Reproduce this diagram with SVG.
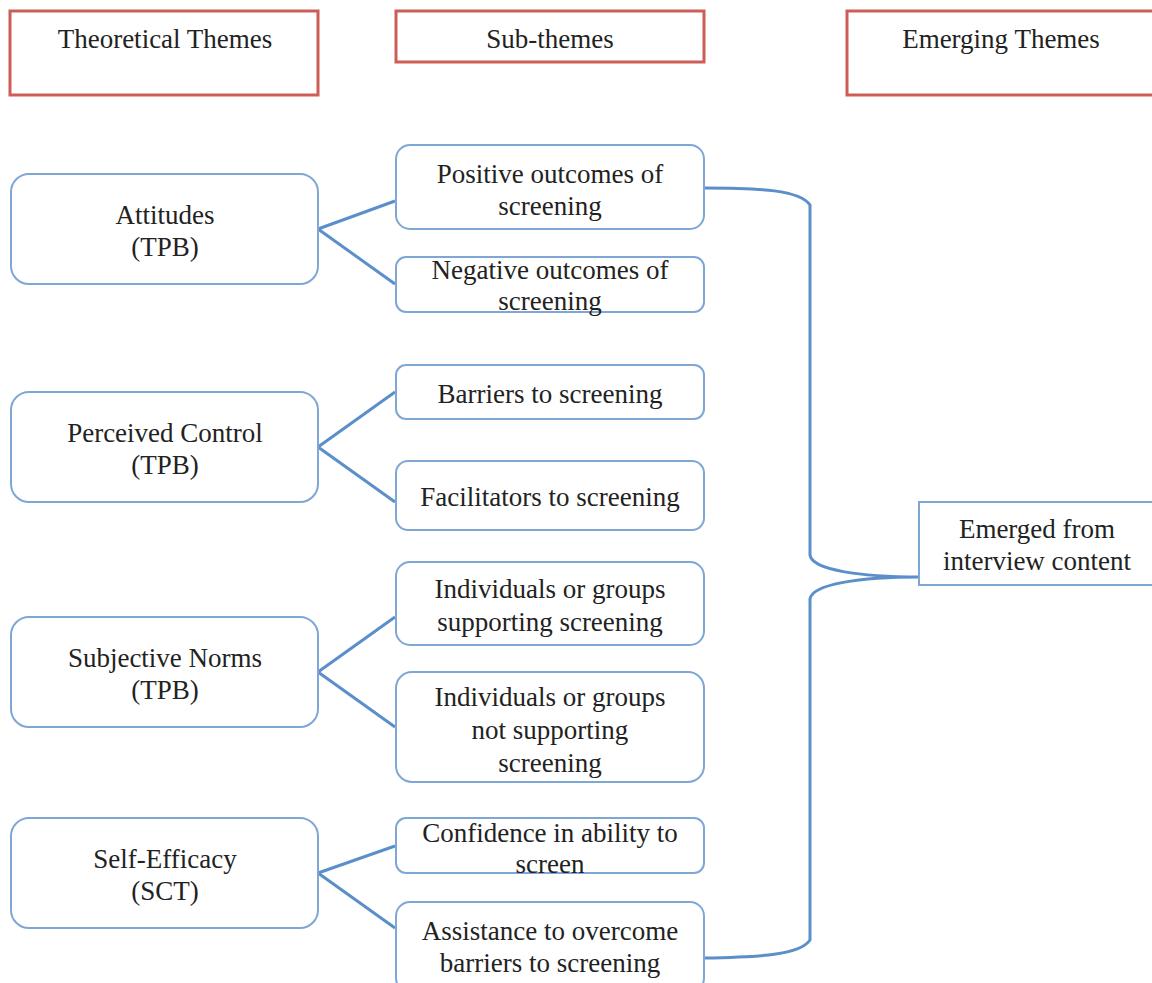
<svg xmlns="http://www.w3.org/2000/svg" width="1152" height="983" viewBox="0 0 1152 983">
<style>
.hdr{fill:#fff;stroke:#cd5d57;stroke-width:3}
.nd{fill:#fff;stroke:#7fa7d6;stroke-width:2}
.t{font-family:"Liberation Serif","Times New Roman",serif;font-size:27px;fill:#222;text-anchor:middle}
.c{fill:none;stroke:#5b8fc9;stroke-width:3}
</style>
<rect width="1152" height="983" fill="#fff"/>
<g id="hdr-theoretical"><rect class="hdr" x="10" y="11" width="308" height="84"/><text class="t" x="165" y="48">Theoretical Themes</text></g>
<g id="hdr-sub"><rect class="hdr" x="396" y="11" width="308" height="51"/><text class="t" x="550" y="48">Sub-themes</text></g>
<g id="hdr-emerging"><rect class="hdr" x="847" y="11" width="310" height="84"/><text class="t" x="1001" y="48">Emerging Themes</text></g>

<g id="connectors">
<path class="c" d="M318 229 L395 201 M318 229 L395 284"/>
<path class="c" d="M318 447 L395 392 M318 447 L395 502"/>
<path class="c" d="M318 672 L395 617 M318 672 L395 727"/>
<path class="c" d="M318 873 L395 846 M318 873 L395 928"/>
<path class="c" d="M704 188 C760 188 800 190 810 205 L810 555 C812 570 860 577 920 577 C860 577 812 584 810 599 L810 940 C800 955 760 957 704 958"/>
</g>

<g id="attitudes"><rect class="nd" x="11" y="174" width="307" height="110" rx="18"/><text class="t" x="165" y="224">Attitudes</text><text class="t" x="165" y="256">(TPB)</text></g>
<g id="perceived"><rect class="nd" x="11" y="392" width="307" height="110" rx="18"/><text class="t" x="165" y="442">Perceived Control</text><text class="t" x="165" y="474">(TPB)</text></g>
<g id="subjective"><rect class="nd" x="11" y="617" width="307" height="110" rx="18"/><text class="t" x="165" y="667">Subjective Norms</text><text class="t" x="165" y="699">(TPB)</text></g>
<g id="selfefficacy"><rect class="nd" x="11" y="818" width="307" height="110" rx="18"/><text class="t" x="165" y="868">Self-Efficacy</text><text class="t" x="165" y="900">(SCT)</text></g>

<g id="positive"><rect class="nd" x="396" y="145" width="308" height="84" rx="14"/><text class="t" x="550" y="183">Positive outcomes of</text><text class="t" x="550" y="215">screening</text></g>
<g id="negative"><rect class="nd" x="396" y="257" width="308" height="55" rx="10"/><text class="t" x="550" y="279">Negative outcomes of</text><text class="t" x="550" y="310">screening</text></g>
<g id="barriers"><rect class="nd" x="396" y="365" width="308" height="54" rx="10"/><text class="t" x="550" y="403">Barriers to screening</text></g>
<g id="facilitators"><rect class="nd" x="396" y="461" width="308" height="69" rx="12"/><text class="t" x="550" y="506">Facilitators to screening</text></g>
<g id="supporting"><rect class="nd" x="396" y="562" width="308" height="83" rx="14"/><text class="t" x="550" y="598">Individuals or groups</text><text class="t" x="550" y="631">supporting screening</text></g>
<g id="notsupporting"><rect class="nd" x="396" y="672" width="308" height="110" rx="16"/><text class="t" x="550" y="706">Individuals or groups</text><text class="t" x="550" y="739">not supporting</text><text class="t" x="550" y="772">screening</text></g>
<g id="confidence"><rect class="nd" x="396" y="818" width="308" height="55" rx="10"/><text class="t" x="550" y="842">Confidence in ability to</text><text class="t" x="550" y="873">screen</text></g>
<g id="assistance"><rect class="nd" x="396" y="902" width="308" height="90" rx="14"/><text class="t" x="550" y="940">Assistance to overcome</text><text class="t" x="550" y="972">barriers to screening</text></g>

<g id="emerged"><rect class="nd" x="919" y="502" width="240" height="83"/><text class="t" x="1037" y="538">Emerged from</text><text class="t" x="1037" y="570">interview content</text></g>
</svg>
